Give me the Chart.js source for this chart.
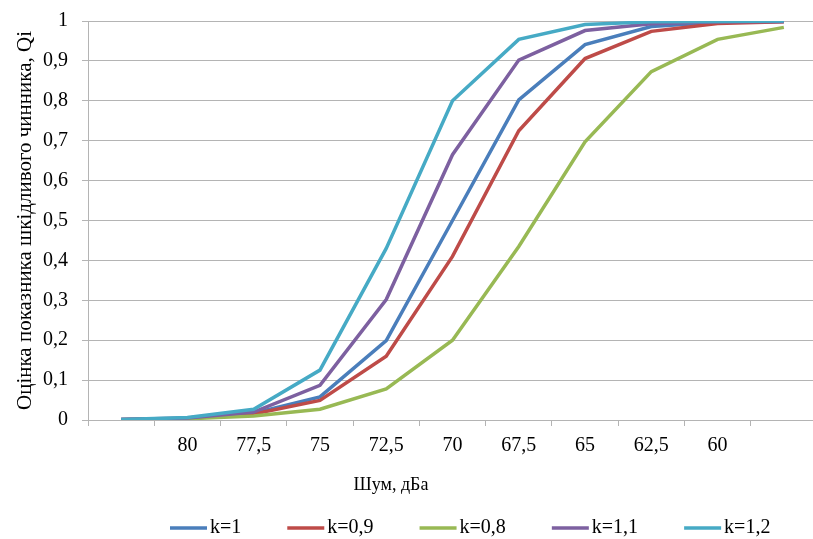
<!DOCTYPE html>
<html>
<head>
<meta charset="utf-8">
<script src="https://cdn.jsdelivr.net/npm/chart.js@4.4.0/dist/chart.umd.min.js"></script>
<style>
html,body{margin:0;padding:0;overflow:hidden;background:#fff;width:813px;height:539px;}
canvas{display:block;}
</style>
</head>
<body>
<canvas id="c" width="820" height="539"></canvas>
<script>
const categories = ['', '80', '77,5', '75', '72,5', '70', '67,5', '65', '62,5', '60', ''];
const seriesNames = ['k=1', 'k=0,9', 'k=0,8', 'k=1,1', 'k=1,2'];
const k1   = [0.001, 0.004, 0.017, 0.058, 0.199, 0.50, 0.802, 0.941, 0.986, 0.997, 0.999];
const k09  = [0.001, 0.004, 0.015, 0.049, 0.160, 0.41, 0.725, 0.906, 0.974, 0.994, 0.998];
const k08  = [0.000, 0.003, 0.010, 0.027, 0.078, 0.20, 0.435, 0.697, 0.873, 0.954, 0.984];
const k11  = [0.001, 0.005, 0.020, 0.087, 0.302, 0.665, 0.902, 0.976, 0.993, 0.998, 0.999];
const k12  = [0.001, 0.006, 0.027, 0.125, 0.430, 0.800, 0.954, 0.991, 0.998, 0.999, 1.000];
const yTickLabels = ['0', '0,1', '0,2', '0,3', '0,4', '0,5', '0,6', '0,7', '0,8', '0,9', '1'];
const xTitle = 'Шум, дБа';
const yTitle = 'Оцінка показника шкідливого чинника, Qi';
const colors = ['#4A7EBB', '#BE4B48', '#98B954', '#7D60A0', '#46AAC5'];

const FONT = '"Liberation Serif", "Times New Roman", serif';
const GRID = '#b4b4b4';
const values = [k1, k09, k08, k11, k12];

const datasets = values.map((v, i) => ({
  label: seriesNames[i],
  data: v,
  borderColor: colors[i],
  backgroundColor: colors[i],
  borderWidth: 3.5,
  pointRadius: 0,
  tension: 0,
  fill: false,
  order: values.length - i
}));

const customText = {
  id: 'customText',
  afterDraw(chart) {
    const ctx = chart.ctx;
    ctx.save();
    ctx.fillStyle = '#000';
    ctx.font = '18px ' + FONT;
    ctx.textBaseline = 'middle';
    ctx.textAlign = 'center';
    ctx.fillText(xTitle, 391, 485);
    // legend
    ctx.font = '20px ' + FONT;
    ctx.textAlign = 'left';
    let x = 170;
    const y = 528;
    chart.data.datasets.forEach((ds) => {
      ctx.strokeStyle = ds.borderColor;
      ctx.lineWidth = 3.5;
      ctx.beginPath();
      ctx.moveTo(x, y);
      ctx.lineTo(x + 37, y);
      ctx.stroke();
      ctx.fillText(ds.label, x + 40, y);
      x += 40 + ctx.measureText(ds.label).width + 46;
    });
    ctx.restore();
  }
};

new Chart(document.getElementById('c'), {
  type: 'line',
  data: { labels: categories, datasets: datasets },
  options: {
    responsive: false,
    animation: false,
    layout: { padding: { top: 21, right: 3, bottom: 0, left: 0 } },
    plugins: { legend: { display: false }, tooltip: { enabled: false } },
    scales: {
      x: {
        type: 'category',
        offset: true,
        grid: { display: true, drawOnChartArea: false, drawTicks: true, tickLength: 6, offset: true, color: GRID },
        border: { display: true, color: GRID, width: 1 },
        ticks: { autoSkip: false, maxRotation: 0, minRotation: 0, color: '#000', font: { family: FONT, size: 20 }, padding: 8 },
        afterFit(s) { s.height = 119; s.paddingLeft = 0; s.paddingRight = 0; }
      },
      y: {
        min: 0, max: 1,
        ticks: {
          stepSize: 0.1, color: '#000', font: { family: FONT, size: 20 }, padding: 14,
          callback: (v, i) => yTickLabels[i]
        },
        grid: { color: GRID, tickLength: 6, drawTicks: true },
        border: { display: true, color: GRID, width: 1 },
        title: { display: true, text: yTitle, color: '#000', font: { family: FONT, size: 21 }, padding: { top: 13, bottom: 0 } },
        afterFit(s) { s.width = 88; s.paddingTop = 0; s.paddingBottom = 0; }
      }
    }
  },
  plugins: [customText]
});
</script>
</body>
</html>
